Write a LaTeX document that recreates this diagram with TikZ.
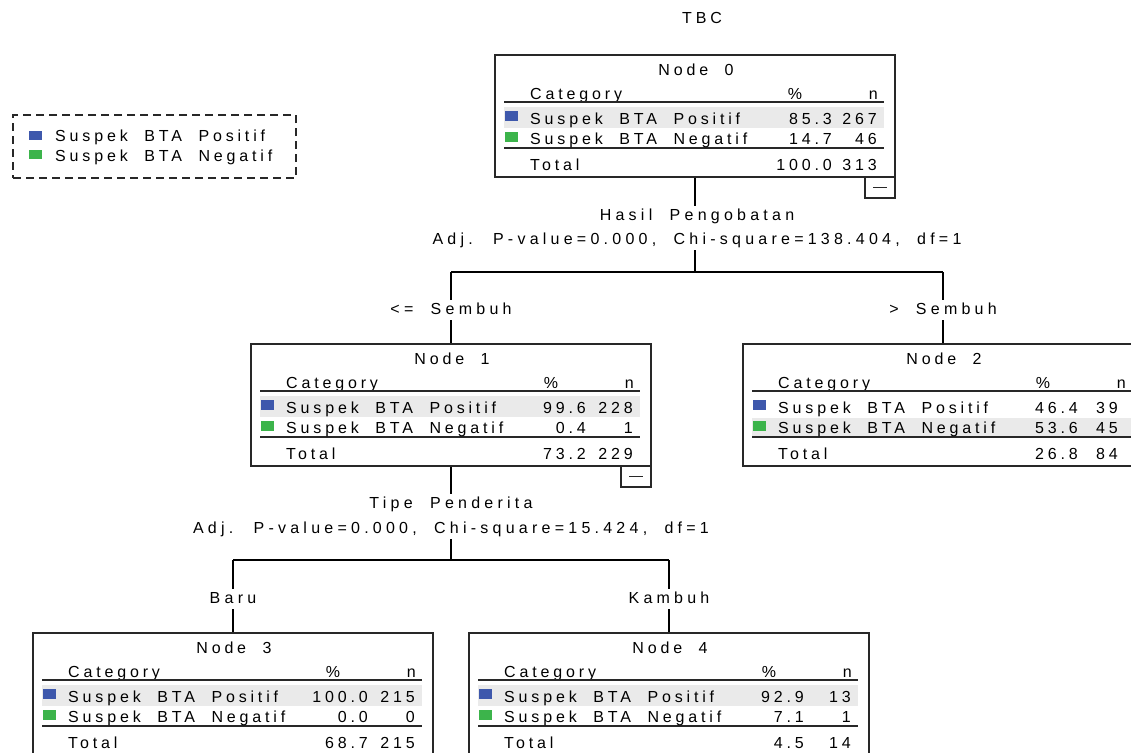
\documentclass[tikz,border=0pt]{standalone}
\usepackage{fontspec}
\setmainfont{Liberation Sans}[LetterSpace=24,WordSpace=2.0]
\newfontfamily\lblfont{Liberation Sans}[LetterSpace=26.5,WordSpace=2.0]
\definecolor{cblue}{RGB}{62,88,172}
\definecolor{cgreen}{RGB}{60,180,75}
\definecolor{hl}{RGB}{234,234,234}
\definecolor{ink}{RGB}{40,40,40}
\def\px{335}
\def\nx{382}
\newcommand\tbox[3]{%
  \ifnum#3=1\relax \fill[hl] (9,52) rectangle (389,73);\else \fill[hl] (9,74) rectangle (389,92);\fi
  \node[nodebox] (#1) at (200,61) {};
  \node[txt,anchor=base] (#1t) at (201,20) {#2};
  \node[txt,anchor=base west] (#1c) at (35,44) {Category};
  \node[txt,anchor=base] (#1p) at (300,44) {\%};
  \node[txt,anchor=base east] (#1n) at (383,44) {n};
  \draw[rule] (9,47) -- (389,47);
  \draw[rule] (9,93) -- (389,93);
  \fill[cblue] (10,56) rectangle (23,66);
  \fill[cgreen] (10,77) rectangle (23,87);
  \node[txt,anchor=base west] (#1a) at (35,69) {Suspek BTA Positif};
  \node[txt,anchor=base west] (#1b) at (35,89) {Suspek BTA Negatif};
  \node[txt,anchor=base west] (#1s) at (35,115) {Total};
}
\newcommand\tvals[7]{%
  \node[txt,anchor=base east] (#1p1) at (\px,69) {#2};
  \node[txt,anchor=base east] (#1n1) at (\nx,69) {#3};
  \node[txt,anchor=base east] (#1p2) at (\px,89) {#4};
  \node[txt,anchor=base east] (#1n2) at (\nx,89) {#5};
  \node[txt,anchor=base east] (#1pt) at (\px,115) {#6};
  \node[txt,anchor=base east] (#1nt) at (\nx,115) {#7};
}
\newcommand\tminus[1]{%
  \node[minusbox] (#1m) at (385,132.5) {};
  \draw[rule] (378,132.5) -- (392,132.5);
}
\begin{document}
\begin{tikzpicture}[x=1pt,y=-1pt,
  txt/.style={font=\fontsize{16}{18}\selectfont, inner sep=0pt, text height=11pt, text depth=3pt, text=black},
  lbl/.style={txt, font=\lblfont\fontsize{16}{18}\selectfont, inner sep=3pt, anchor=base},
  nodebox/.style={draw=ink, line width=1.4pt, minimum width=400pt, minimum height=122pt, inner sep=0pt},
  minusbox/.style={draw=ink, line width=1.4pt, minimum width=30pt, minimum height=21pt, inner sep=0pt},
  rule/.style={draw=ink, line width=1.4pt},
  conn/.style={draw=black, line width=1.4pt},
  legendbox/.style={draw=ink, line width=1.3pt, dash pattern=on 8pt off 5pt, minimum width=283pt, minimum height=63pt, inner sep=0pt}]
\useasboundingbox (0,0) rectangle (1131,752);
\fill[white] (0,0) rectangle (1131,752);
\clip (0,0) rectangle (1131,752);

\node[txt,anchor=base] (title) at (702,24) {TBC};

% legend
\node[legendbox] (legend) at (154.5,146.5) {};
\fill[cblue] (29,131) rectangle (42,140);
\fill[cgreen] (29,150) rectangle (42,159);
\node[txt,anchor=base west] (leg1) at (55,141) {Suspek BTA Positif};
\node[txt,anchor=base west] (leg2) at (55,161) {Suspek BTA Negatif};

% Node 0
\begin{scope}[shift={(495,55)}]
  \tbox{n0}{Node 0}{1}
  \def\px{337}
  \tvals{n0}{85.3}{267}{14.7}{46}{100.0}{313}
  \tminus{n0}
\end{scope}
% Node 1
\begin{scope}[shift={(251,344)}]
  \tbox{n1}{Node 1}{1}
  \tvals{n1}{99.6}{228}{0.4}{1}{73.2}{229}
  \tminus{n1}
\end{scope}
% Node 2
\begin{scope}[shift={(743,344)}]
  \tbox{n2}{Node 2}{2}
  \def\nx{375}
  \tvals{n2}{46.4}{39}{53.6}{45}{26.8}{84}
\end{scope}
% Node 3
\begin{scope}[shift={(33,633)}]
  \tbox{n3}{Node 3}{1}
  \tvals{n3}{100.0}{215}{0.0}{0}{68.7}{215}
\end{scope}
% Node 4
\begin{scope}[shift={(469,633)}]
  \tbox{n4}{Node 4}{1}
  \tvals{n4}{92.9}{13}{7.1}{1}{4.5}{14}
\end{scope}

% split 1
\node[lbl] (v0) at (697,220) {Hasil Pengobatan};
\node[lbl] (s0) at (697,244) {Adj. P-value=0.000, Chi-square=138.404, df=1};
\coordinate (j0) at (695,272);
\coordinate (j0l) at (451,272);
\coordinate (j0r) at (943,272);
\node[lbl] (e1) at (451,314) {<= Sembuh};
\node[lbl] (e2) at (943,314) {> Sembuh};
\draw[conn] (n0.south) -- (n0.south |- v0.north);
\draw[conn] (n0.south |- s0.south) -- (j0);
\draw[conn] (j0l) -- (j0r);
\draw[conn] (j0l) -- (e1.north);
\draw[conn] (j0r) -- (e2.north);
\draw[conn] (e1.south) -- (n1.north);
\draw[conn] (e2.south) -- (n2.north);

% split 2
\node[lbl] (v1) at (451,508) {Tipe Penderita};
\node[lbl] (s1) at (451,533) {Adj. P-value=0.000, Chi-square=15.424, df=1};
\coordinate (j1) at (451,560);
\coordinate (j1l) at (233,560);
\coordinate (j1r) at (669,560);
\node[lbl] (e3) at (233,603) {Baru};
\node[lbl] (e4) at (669,603) {Kambuh};
\draw[conn] (n1.south) -- (v1.north);
\draw[conn] (s1.south) -- (j1);
\draw[conn] (j1l) -- (j1r);
\draw[conn] (j1l) -- (e3.north);
\draw[conn] (j1r) -- (e4.north);
\draw[conn] (e3.south) -- (n3.north);
\draw[conn] (e4.south) -- (n4.north);
\end{tikzpicture}
\end{document}
